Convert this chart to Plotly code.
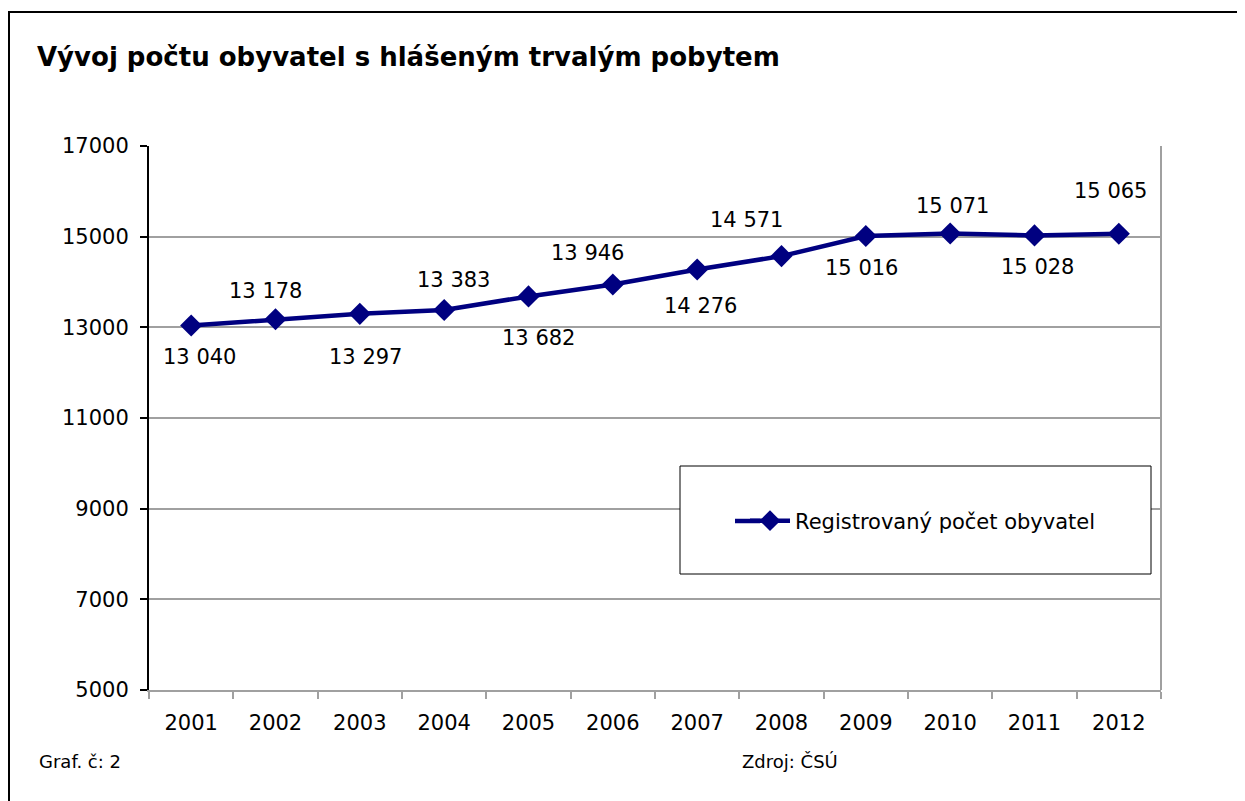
import plotly.graph_objects as go

years = ["2001", "2002", "2003", "2004", "2005", "2006", "2007", "2008", "2009", "2010", "2011", "2012"]
population = [13040, 13178, 13297, 13383, 13682, 13946, 14276, 14571, 15016, 15071, 15028, 15065]
y_ticks = [5000, 7000, 9000, 11000, 13000, 15000, 17000]

# data-label placement (pixel offsets from each point, as in the original chart)
label_dx = [8, -10, 6, 9, 10, -25, 3, -35, -4, 2, 3, -8]
label_dy = [-31, 28, -43, 30, -42, 31, -37, 36, -32, 27, -32, 43]

FONT = "Verdana, DejaVu Sans, sans-serif"
NAVY = "#000080"
GRID = "#a0a0a0"

OFF = 8  # page body margin
W, H = 1245 - OFF, 801 - OFF
L, R, T, B = 149, 1161, 146, 690  # target pixel positions in screenshot


def px_x(p):
    return (p - L) / (R - L)


def px_y(q):
    return (B - q) / (B - T)


def fmt(v):
    return f"{v:,}".replace(",", " ")


fig = go.Figure()
fig.add_trace(go.Scatter(
    x=years, y=population, mode="lines+markers",
    name="Registrovaný počet obyvatel",
    line=dict(color=NAVY, width=4.5),
    marker=dict(symbol="diamond", size=17, color=NAVY),
))

annotations = []
for i, (v, dx, dy) in enumerate(zip(population, label_dx, label_dy)):
    annotations.append(dict(
        x=i, y=v, xref="x", yref="y", text=fmt(v), showarrow=False,
        xshift=dx, yshift=dy,
        font=dict(family=FONT, size=21, color="#000"),
    ))

annotations += [
    dict(x=px_x(35), y=px_y(57), xref="paper", yref="paper", xanchor="left", yanchor="middle",
         text="<b>Vývoj počtu obyvatel s hlášeným trvalým pobytem</b>", showarrow=False,
         font=dict(family=FONT, size=26, color="#000")),
    dict(x=px_x(37), y=px_y(761), xref="paper", yref="paper", xanchor="left", yanchor="middle",
         text="Graf. č: 2", showarrow=False, font=dict(family=FONT, size=18, color="#000")),
    dict(x=px_x(740), y=px_y(761), xref="paper", yref="paper", xanchor="left", yanchor="middle",
         text="Zdroj: ČSÚ", showarrow=False, font=dict(family=FONT, size=18, color="#000")),
]

shapes = [
    # outer frame
    dict(type="rect", xref="paper", yref="paper", x0=px_x(OFF + 1), y0=px_y(830), x1=px_x(1290), y1=px_y(12),
         line=dict(color="#000", width=2), layer="below"),
    # right plot border
    dict(type="line", xref="paper", yref="paper", x0=1, x1=1, y0=0, y1=1,
         line=dict(color=GRID, width=2)),
    # legend box
    dict(type="rect", xref="paper", yref="paper", x0=px_x(680), x1=px_x(1151), y0=px_y(574), y1=px_y(466),
         line=dict(color="#000", width=1), fillcolor="white", layer="above"),
    # extension of the legend line sample to the left
    dict(type="line", xref="paper", yref="paper", x0=px_x(735), x1=px_x(760), y0=px_y(521), y1=px_y(521),
         line=dict(color=NAVY, width=4.5), layer="above"),
]

fig.update_layout(
    width=W, height=H,
    margin=dict(l=L - OFF, r=(W + OFF) - R, t=T - OFF, b=(H + OFF) - B),
    paper_bgcolor="white", plot_bgcolor="white",
    font=dict(family=FONT, size=21, color="#000"),
    showlegend=True,
    legend=dict(x=px_x(745), y=px_y(521), xanchor="left", yanchor="middle",
                bgcolor="rgba(0,0,0,0)", borderwidth=0,
                font=dict(family=FONT, size=21, color="#000"), itemwidth=40),
    annotations=annotations,
    shapes=shapes,
    xaxis=dict(
        type="category", range=[-0.5, 11.5],
        showline=True, linecolor=GRID, linewidth=2,
        ticks="outside", ticklen=7, tickcolor=GRID, tickwidth=2,
        tickson="boundaries", showgrid=False, zeroline=False,
        tickfont=dict(family=FONT, size=21), ticklabelstandoff=13,
    ),
    yaxis=dict(
        range=[5000, 17000], tickvals=y_ticks, ticktext=[str(t) for t in y_ticks],
        showline=True, linecolor="#000", linewidth=2,
        ticks="outside", ticklen=7, tickcolor="#000", tickwidth=2,
        showgrid=True, gridcolor=GRID, gridwidth=2, zeroline=False,
        tickfont=dict(family=FONT, size=21), ticklabelstandoff=7,
    ),
)

fig.write_html("out.html")
